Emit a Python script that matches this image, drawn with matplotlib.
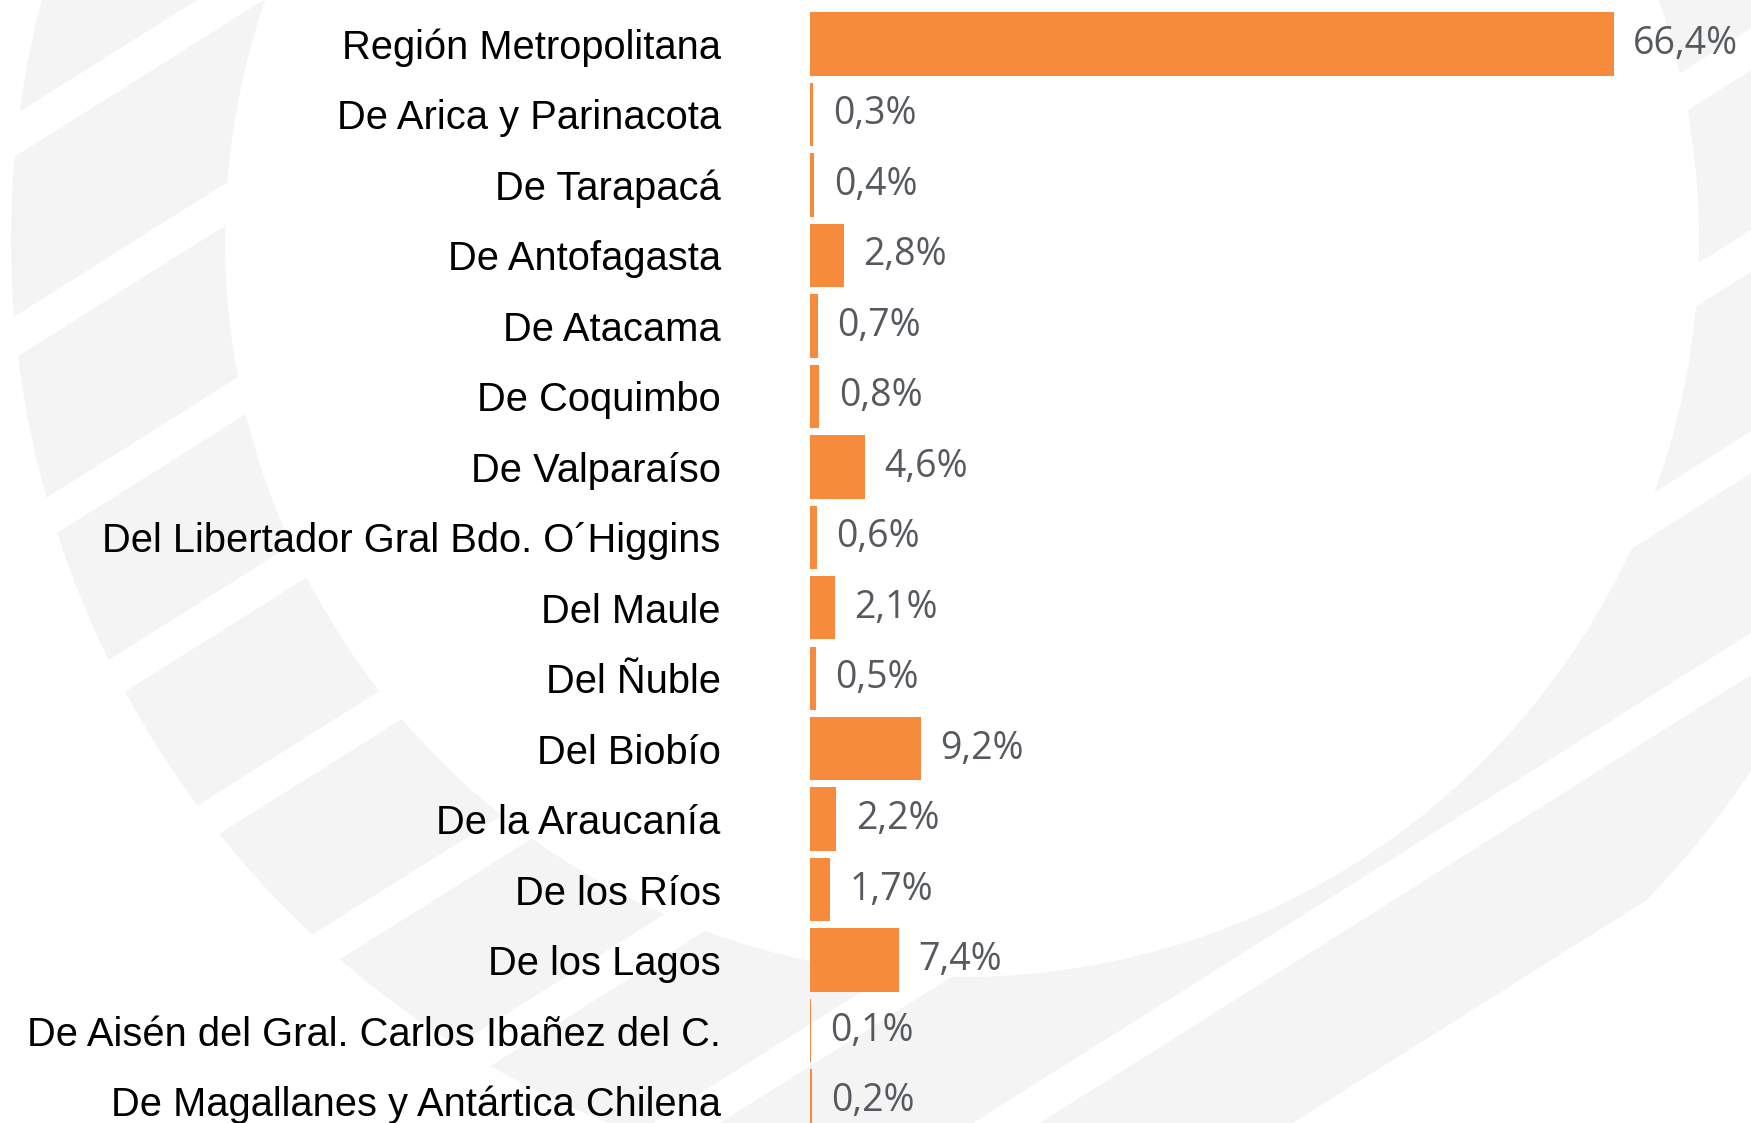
import matplotlib
matplotlib.use("Agg")
import matplotlib.pyplot as plt
from matplotlib.patches import Wedge, Polygon
import numpy as np

# data
regiones = ["Región Metropolitana", "De Arica y Parinacota", "De Tarapacá",
            "De Antofagasta", "De Atacama", "De Coquimbo", "De Valparaíso",
            "Del Libertador Gral Bdo. O´Higgins", "Del Maule", "Del Ñuble",
            "Del Biobío", "De la Araucanía", "De los Ríos", "De los Lagos",
            "De Aisén del Gral. Carlos Ibañez del C.",
            "De Magallanes y Antártica Chilena"]
porcentajes = [66.4, 0.3, 0.4, 2.8, 0.7, 0.8, 4.6, 0.6, 2.1, 0.5, 9.2,
               2.2, 1.7, 7.4, 0.1, 0.2]

W, H = 1751, 1123
fig = plt.figure(figsize=(W / 100, H / 100), dpi=100)
fig.patch.set_facecolor("white")

# faint watermark in the background (pixel coords)
bg = fig.add_axes([0, 0, 1, 1])
bg.set_xlim(0, W)
bg.set_ylim(H, 0)
bg.axis("off")
gris = "#f4f4f4"
cx, cy, r_in, r_out = 962, 240, 737, 951
bg.add_patch(Wedge((cx, cy), r_out, 0, 360, width=r_out - r_in,
                   facecolor=gris, edgecolor="none"))
slope = -0.63
ancho = 42
for k in range(-6, 14):
    y0 = 145 + 201.5 * k
    pts = [(0, y0 - ancho / 2), (W, y0 - ancho / 2 + slope * W),
           (W, y0 + ancho / 2 + slope * W), (0, y0 + ancho / 2)]
    bg.add_patch(Polygon(pts, closed=True, facecolor="white", edgecolor="none"))

# bar chart
ax = fig.add_axes([809.6 / W, 0, 1 - 809.6 / W, 1])
ax.patch.set_alpha(0)
y = np.arange(len(regiones))
ax.barh(y, porcentajes, height=0.9, color="#f68b3b")
ax.set_xlim(0, 77.75)
ax.set_ylim((H - 44) / 70.47, -44 / 70.47)

ax.set_yticks(y)
ax.set_yticklabels(regiones, fontsize=28.7, family="Liberation Sans", color="black")
ax.tick_params(axis="y", length=0, pad=64)
ax.set_xticks([])
for s in ax.spines.values():
    s.set_visible(False)

for yi, v in zip(y, porcentajes):
    ax.annotate(f"{v:.1f}".replace(".", ",") + "%", (v, yi),
                xytext=(14, 0), textcoords="offset points",
                ha="left", va="center", fontsize=27, family="Open Sans",
                color="#565a5f")

fig.savefig("out.png", dpi=100)
